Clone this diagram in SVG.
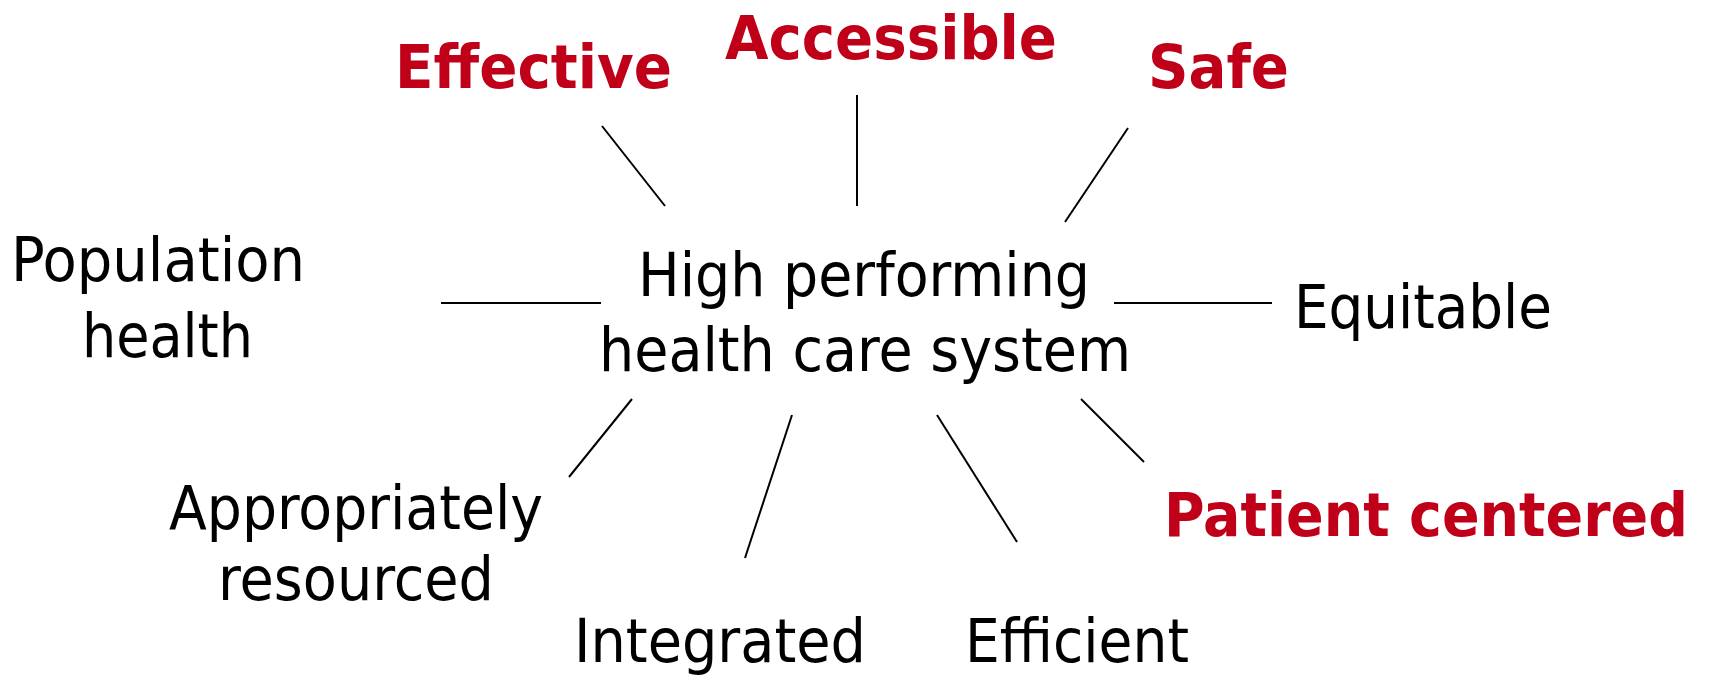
<svg xmlns="http://www.w3.org/2000/svg" width="1709" height="676" viewBox="0 0 1709 676">
<style>
.t{font-family:"DejaVu Sans Condensed","DejaVu Sans","Liberation Sans",sans-serif;font-size:61px;fill:#000}
.r{font-family:"DejaVu Sans Condensed","DejaVu Sans","Liberation Sans",sans-serif;font-size:61px;font-weight:bold;fill:#C00018}
.c line{stroke:#000;stroke-width:2}
</style>
<rect width="1709" height="676" fill="#fff"/>
<g class="c" id="connectors">
<line x1="602" y1="126" x2="665" y2="206"/>
<line x1="857" y1="95" x2="857" y2="206"/>
<line x1="1128" y1="128" x2="1065" y2="222"/>
<line x1="441" y1="303" x2="601" y2="303"/>
<line x1="1114" y1="303" x2="1272" y2="303"/>
<line x1="632" y1="399" x2="569" y2="477"/>
<line x1="792" y1="415" x2="745" y2="558"/>
<line x1="937" y1="415" x2="1017" y2="542"/>
<line x1="1081" y1="399" x2="1144" y2="462"/>
</g>
<g id="center"><text class="t" x="638" y="296" textLength="452" lengthAdjust="spacingAndGlyphs">High performing</text><text class="t" x="599" y="371" textLength="532" lengthAdjust="spacingAndGlyphs">health care system</text></g>
<g id="effective"><text class="r" x="395" y="88" textLength="277" lengthAdjust="spacingAndGlyphs">Effective</text></g>
<g id="accessible"><text class="r" x="725" y="59" textLength="332" lengthAdjust="spacingAndGlyphs">Accessible</text></g>
<g id="safe"><text class="r" x="1148" y="88" textLength="141" lengthAdjust="spacingAndGlyphs">Safe</text></g>
<g id="population"><text class="t" x="11" y="281" textLength="294" lengthAdjust="spacingAndGlyphs">Population</text><text class="t" x="82" y="357" textLength="171" lengthAdjust="spacingAndGlyphs">health</text></g>
<g id="equitable"><text class="t" x="1294" y="328" textLength="258" lengthAdjust="spacingAndGlyphs">Equitable</text></g>
<g id="appropriately"><text class="t" x="169" y="529" textLength="374" lengthAdjust="spacingAndGlyphs">Appropriately</text><text class="t" x="218" y="600" textLength="276" lengthAdjust="spacingAndGlyphs">resourced</text></g>
<g id="integrated"><text class="t" x="574" y="662" textLength="292" lengthAdjust="spacingAndGlyphs">Integrated</text></g>
<g id="efficient"><text class="t" x="965" y="662" textLength="224" lengthAdjust="spacingAndGlyphs">Efficient</text></g>
<g id="patient"><text class="r" x="1164" y="536" textLength="524" lengthAdjust="spacingAndGlyphs">Patient centered</text></g>
</svg>
